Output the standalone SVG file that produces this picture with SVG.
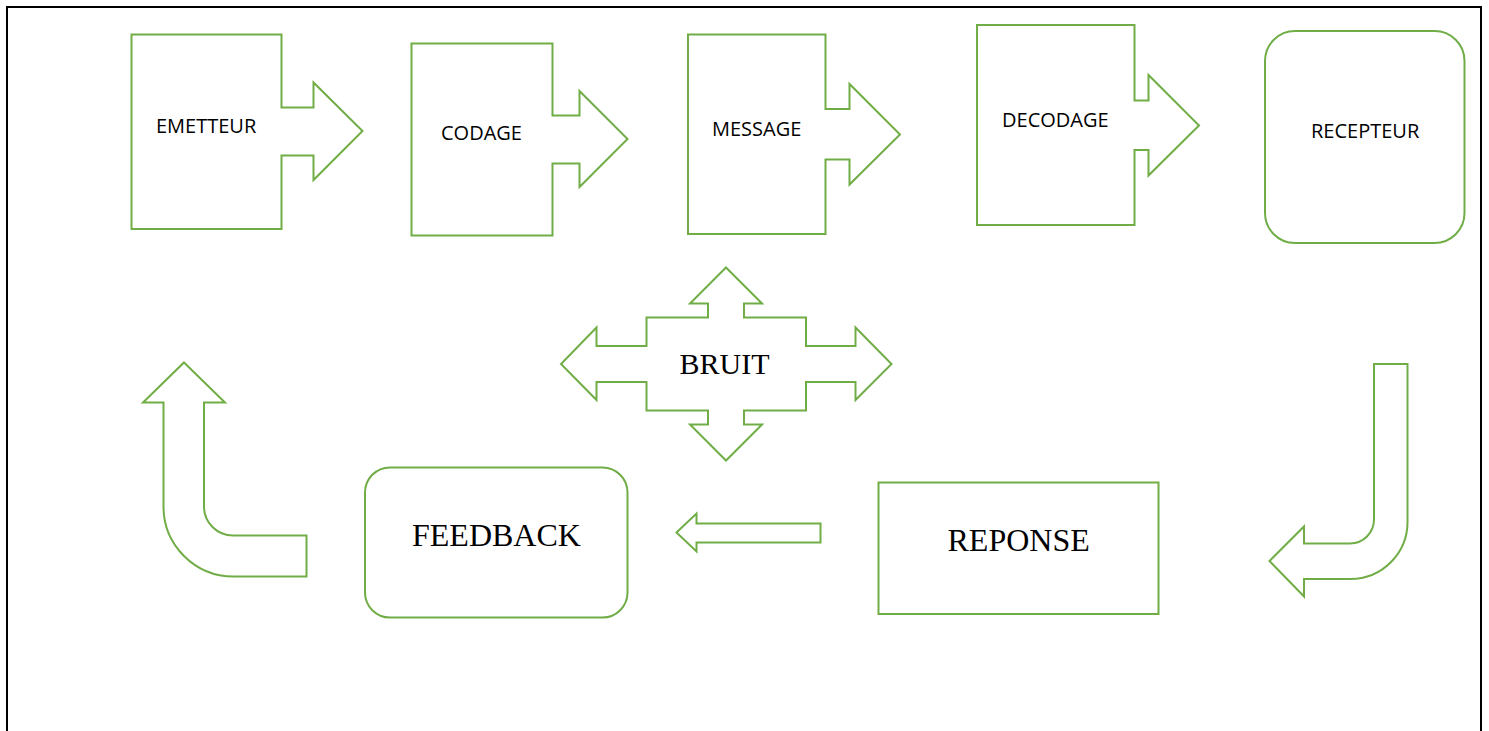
<svg xmlns="http://www.w3.org/2000/svg" width="1489" height="731" viewBox="0 0 1489 731">
<style>
.s{fill:#fff;stroke:#70AD47;stroke-width:2;stroke-linejoin:miter}
.t{font-family:"Open Sans","DejaVu Sans",sans-serif;font-size:20px;fill:#000}
.r{font-family:"Liberation Serif","Times New Roman",serif;font-size:32px;fill:#000}
</style>
<rect width="1489" height="731" fill="#fff"/>
<path d="M7,740 V7 H1481 V740" fill="none" stroke="#000" stroke-width="2"/>
<g id="emetteur">
<path class="s" d="M131.5,34.5 H281.5 V107.5 H313.5 V82.5 L362.5,131 L313.5,180 V155.5 H281.5 V229 H131.5 Z"/>
<text class="t" x="156" y="132.5">EMETTEUR</text>
</g>
<g id="codage">
<path class="s" d="M411.5,43.5 H552.5 V115.5 H579.5 V91 L627.5,139 L579.5,187 V163.5 H552.5 V235.5 H411.5 Z"/>
<text class="t" x="441" y="140">CODAGE</text>
</g>
<g id="message">
<path class="s" d="M688,34.5 H825.5 V109 H849.5 V84 L900,134.5 L849.5,184.5 V159.5 H825.5 V234 H688 Z"/>
<text class="t" x="712" y="136">MESSAGE</text>
</g>
<g id="decodage">
<path class="s" d="M977,25 H1134.5 V100.5 H1148.5 V75 L1199,125.5 L1148.5,175.5 V150 H1134.5 V225 H977 Z"/>
<text class="t" x="1002" y="127">DECODAGE</text>
</g>
<g id="recepteur">
<rect class="s" x="1265" y="31" width="199.5" height="212" rx="30"/>
<text class="t" x="1311" y="138">RECEPTEUR</text>
</g>
<g id="bruit">
<path class="s" d="M726,267.5 L762,303.5 H744 V317.5 H806 V346 H855.5 V327.5 L891.5,364 L855.5,400 V382 H806 V410.5 H744 V424.5 H762 L726,460.5 L690,424.5 H708 V410.5 H646.5 V382 H596.5 V400 L561,364 L596.5,327.5 V346 H646.5 V317.5 H708 V303.5 H690 Z"/>
<text class="r" x="679.5" y="373.5" style="font-size:30px">BRUIT</text>
</g>
<g id="feedback">
<rect class="s" x="365" y="467.5" width="262.5" height="150" rx="25"/>
<text class="r" x="412" y="546">FEEDBACK</text>
</g>
<g id="reponse">
<rect class="s" x="878.5" y="482.5" width="280" height="131.5"/>
<text class="r" x="947.5" y="551">REPONSE</text>
</g>
<g id="connectors">
<path class="s" d="M1374,364 H1407.5 V522 A57,57 0 0 1 1350.5,579 H1304 V596.5 L1269.5,561 L1304,526.5 V543.5 H1350 A24,24 0 0 0 1374,519.5 Z"/>
<path class="s" d="M676.5,532.5 L696.5,513.5 V523.5 H820.5 V542.5 H696.5 V551.5 Z"/>
<path class="s" d="M184,362.5 L225,402.5 H204 V506.5 A29,29 0 0 0 233,535.5 H306.5 V576.5 H233.5 A70,70 0 0 1 163.5,506.5 V402.5 H143 Z"/>
</g>
</svg>
